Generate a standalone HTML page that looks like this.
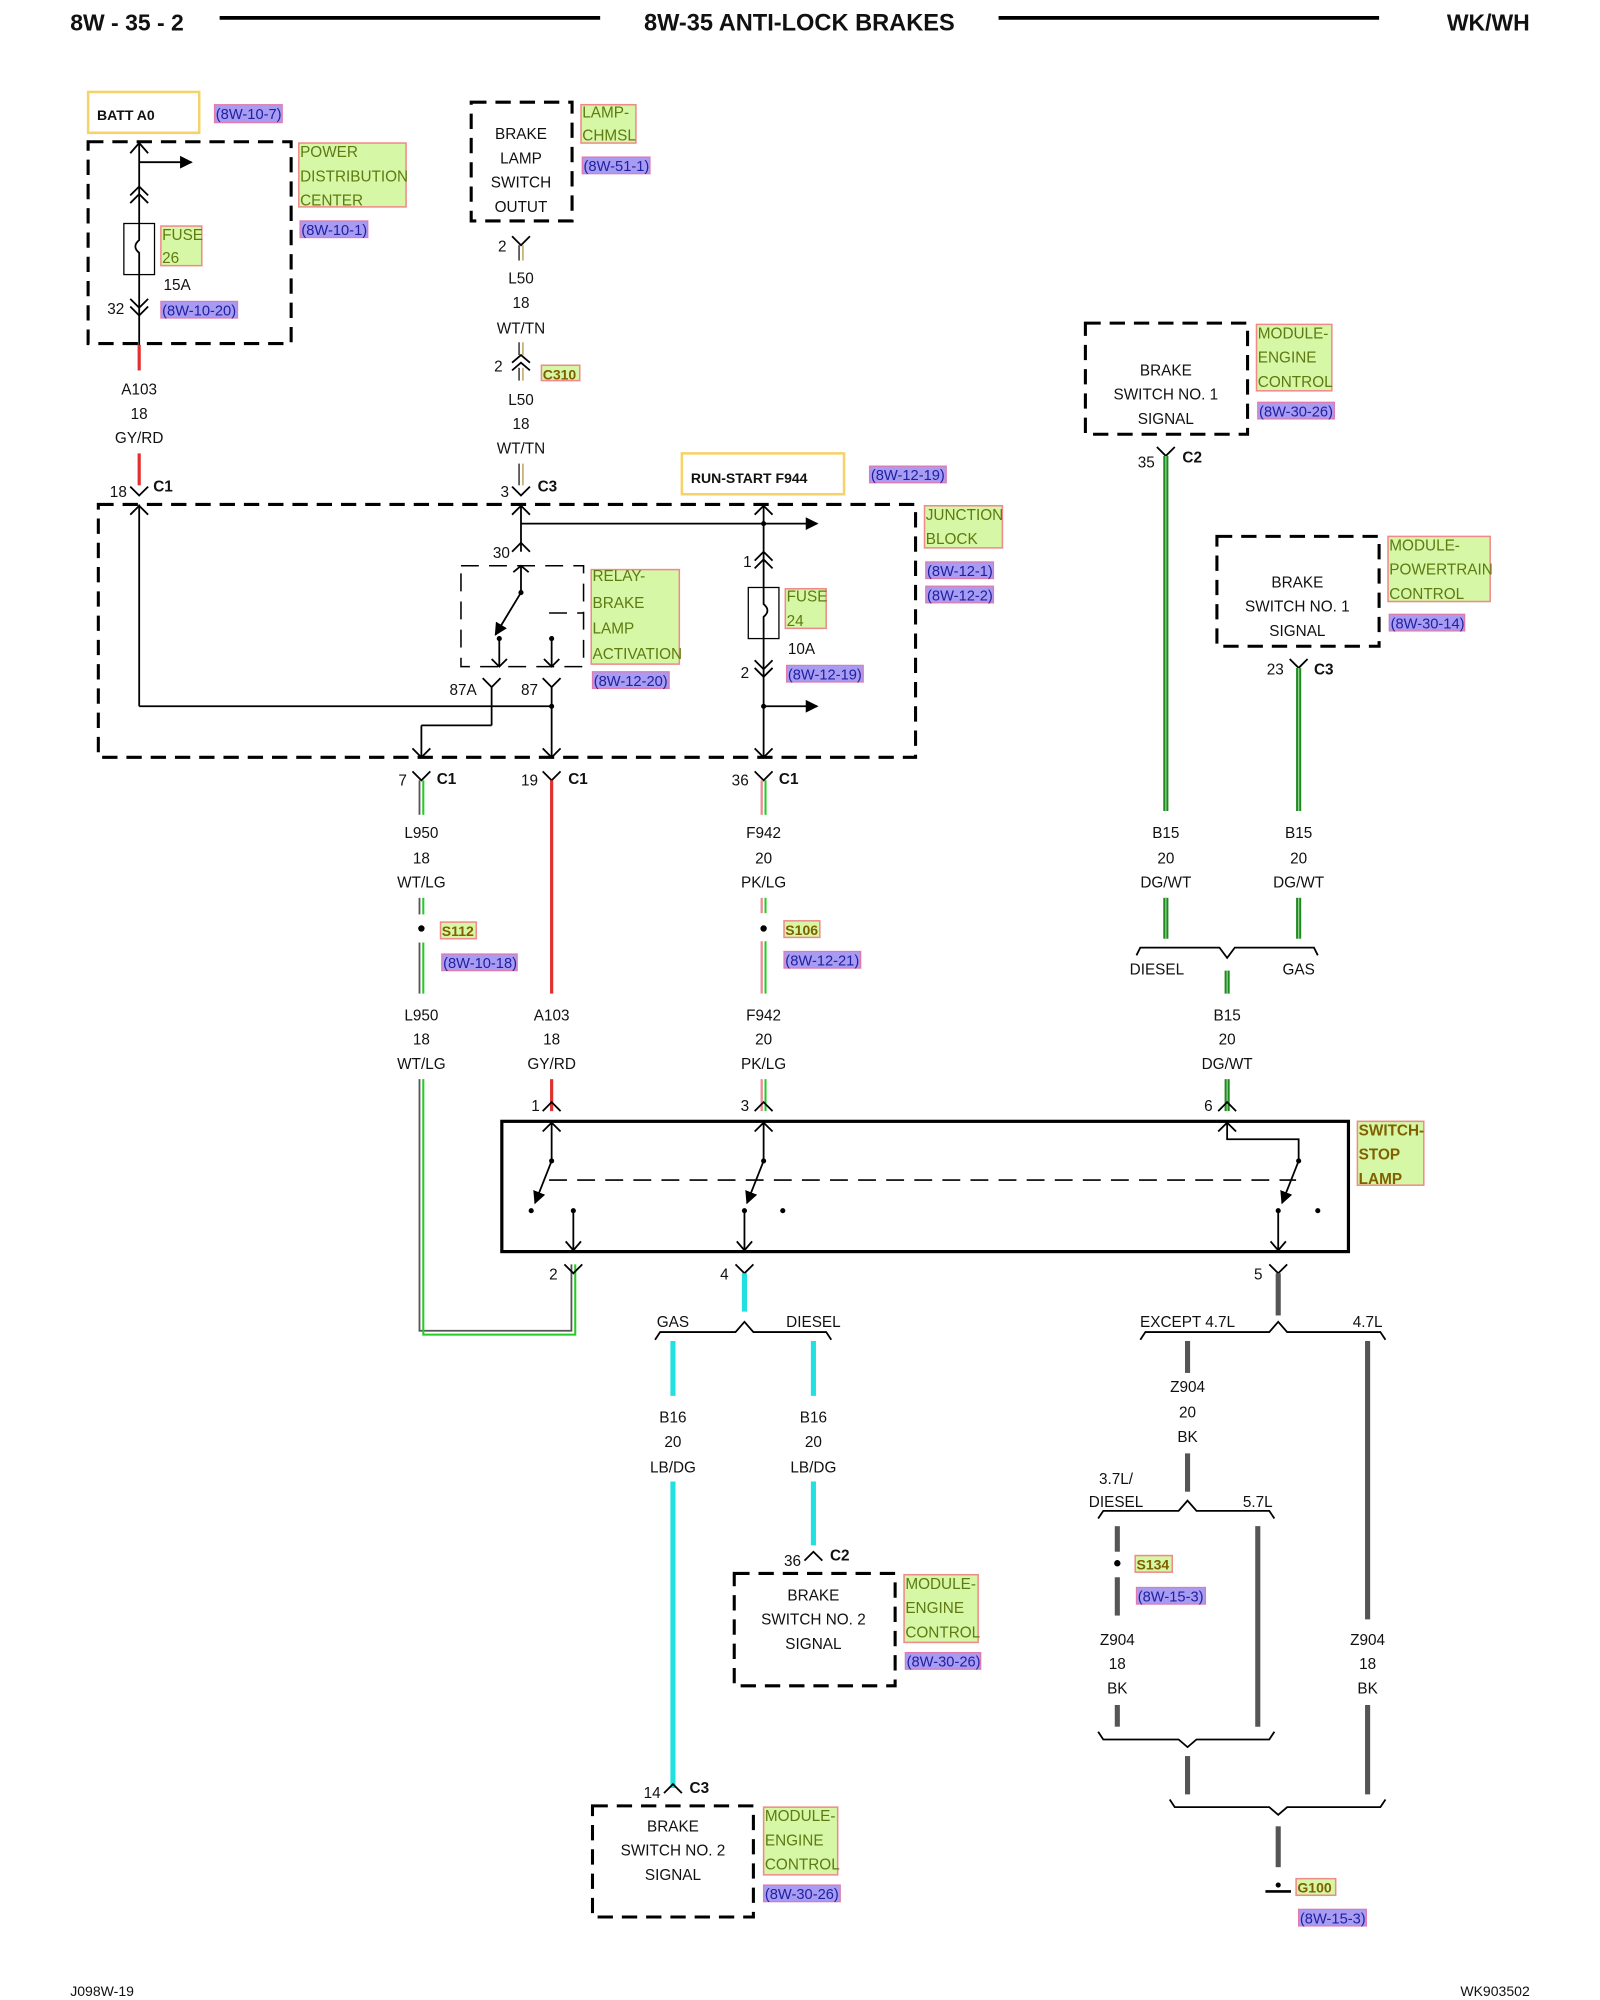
<!DOCTYPE html>
<html><head><meta charset="utf-8"><style>
html,body{margin:0;padding:0;background:#fff}
svg{display:block}
text{font-family:"Liberation Sans",sans-serif;font-size:12px;fill:#111}
.b{font-weight:bold}
.y{fill:#d6f7a6;stroke:#f08a8a;stroke-width:1.2}
.yt{fill:#5e7a10;font-size:12px}
.p{fill:#a79cf2;stroke:#e07ab0;stroke-width:1}
.pt{fill:#2020a0;font-size:11.5px}
.k{stroke:#000;stroke-width:1.4;fill:none}
.d{stroke:#000;stroke-width:2.4;fill:none;stroke-dasharray:12 7}
.dt{stroke:#000;stroke-width:1.2;fill:none;stroke-dasharray:14 8}
.red{stroke:#e03030;stroke-width:2.5}
.gy{stroke:#555;stroke-width:1.4}
.gn{stroke:#22cc22;stroke-width:1.6}
.pk{stroke:#f08a9a;stroke-width:1.8}
.dg{stroke:#1b8c1b;stroke-width:4}
.dgw{stroke:#9c9;stroke-width:1}
.cy{stroke:#22e0e0;stroke-width:4}
.bk{stroke:#555;stroke-width:4}
.tn{stroke:#c9b37a;stroke-width:1.4}
</style></head><body>
<svg width="1600" height="2000" viewBox="0 0 1253 1566" preserveAspectRatio="none" xmlns="http://www.w3.org/2000/svg">
<defs>
<marker id="ah" markerWidth="10" markerHeight="10" refX="9" refY="5" orient="auto" markerUnits="userSpaceOnUse"><path d="M0,0 L10,5 L0,10z" fill="#000"/></marker>
</defs>
<!-- header -->
<text x="55" y="24" class="b" style="font-size:18px">8W - 35 - 2</text>
<line x1="172" y1="14" x2="470" y2="14" stroke="#000" stroke-width="3"/>
<text x="626" y="24" class="b" text-anchor="middle" style="font-size:18.5px">8W-35 ANTI-LOCK BRAKES</text>
<line x1="782" y1="14" x2="1080" y2="14" stroke="#000" stroke-width="3"/>
<text x="1198" y="24" class="b" text-anchor="end" style="font-size:18px">WK/WH</text>

<!-- PDC -->
<rect x="69" y="72" width="87" height="32" fill="none" stroke="#f5d36a" stroke-width="2"/>
<text x="76" y="94" class="b" style="font-size:11px">BATT A0</text>
<rect x="168" y="82" width="53" height="14" class="p"/><text x="169" y="93" class="pt">(8W-10-7)</text>
<rect x="69" y="111" width="159" height="158" class="d"/>
<line x1="109" y1="111" x2="109" y2="290" class="k"/>
<path d="M102,120 L109,112 L116,120" class="k"/>
<line x1="109" y1="127" x2="150" y2="127" class="k" marker-end="url(#ah)"/>
<path d="M102,153 L109,146 L116,153 M102,159 L109,152 L116,159" class="k"/>
<rect x="97" y="175" width="24" height="40" fill="#fff" stroke="#000"/>
<path d="M109,175 L109,188 Q103,193 109,198 L109,215" class="k"/>
<path d="M102,234 L109,241 L116,234 M102,240 L109,247 L116,240" class="k"/>
<text x="84" y="246">32</text>
<rect x="126" y="177" width="32" height="31" class="y"/><text x="127" y="188" class="yt">FUSE</text><text x="127" y="206" class="yt">26</text>
<text x="128" y="227">15A</text>
<rect x="126" y="236" width="60" height="13" class="p"/><text x="127" y="247" class="pt">(8W-10-20)</text>
<rect x="234" y="112" width="84" height="50" class="y"/><text x="235" y="123" class="yt">POWER</text><text x="235" y="142" class="yt">DISTRIBUTION</text><text x="235" y="161" class="yt">CENTER</text>
<rect x="235" y="173" width="53" height="13" class="p"/><text x="236" y="184" class="pt">(8W-10-1)</text>
<line x1="109" y1="270" x2="109" y2="290" class="red"/>
<text x="109" y="309" text-anchor="middle">A103</text><text x="109" y="328" text-anchor="middle">18</text><text x="109" y="347" text-anchor="middle">GY/RD</text>
<line x1="109" y1="355" x2="109" y2="380" class="red"/>
<text x="86" y="389">18</text><text x="120" y="385" class="b">C1</text>
<path d="M102,381 L109,388 L116,381" class="k"/>

<!-- brake lamp switch output -->
<rect x="369" y="80" width="79" height="93" class="d"/>
<text x="408" y="109" text-anchor="middle">BRAKE</text><text x="408" y="128" text-anchor="middle">LAMP</text><text x="408" y="147" text-anchor="middle">SWITCH</text><text x="408" y="166" text-anchor="middle">OUTUT</text>
<rect x="455" y="82" width="43" height="30" class="y"/><text x="456" y="92" class="yt">LAMP-</text><text x="456" y="110" class="yt">CHMSL</text>
<rect x="456" y="123" width="53" height="13" class="p"/><text x="457" y="134" class="pt">(8W-51-1)</text>
<text x="390" y="197">2</text><path d="M401,185 L408,192 L415,185" class="k"/>
<line x1="406.5" y1="192" x2="406.5" y2="204" class="gy"/><line x1="409.5" y1="192" x2="409.5" y2="204" class="tn"/>
<text x="408" y="222" text-anchor="middle">L50</text><text x="408" y="241" text-anchor="middle">18</text><text x="408" y="261" text-anchor="middle">WT/TN</text>
<line x1="406.5" y1="268" x2="406.5" y2="278" class="gy"/><line x1="409.5" y1="268" x2="409.5" y2="278" class="tn"/>
<path d="M401,284 L408,278 L415,284 M401,290 L408,284 L415,290" class="k"/>
<line x1="406.5" y1="288" x2="406.5" y2="298" class="gy"/><line x1="409.5" y1="288" x2="409.5" y2="298" class="tn"/>
<text x="387" y="291">2</text>
<rect x="424" y="286" width="30" height="12" class="y"/><text x="425" y="297" class="yt b" style="font-size:11px;fill:#806000">C310</text>
<text x="408" y="317" text-anchor="middle">L50</text><text x="408" y="336" text-anchor="middle">18</text><text x="408" y="355" text-anchor="middle">WT/TN</text>
<line x1="406.5" y1="363" x2="406.5" y2="380" class="gy"/><line x1="409.5" y1="363" x2="409.5" y2="380" class="tn"/>
<text x="392" y="389">3</text><text x="421" y="385" class="b">C3</text>
<path d="M401,381 L408,388 L415,381" class="k"/>

<!-- junction block -->
<rect x="534" y="355" width="127" height="32" fill="none" stroke="#f5d36a" stroke-width="2"/>
<text x="541" y="378" class="b" style="font-size:11px">RUN-START F944</text>
<rect x="681" y="365" width="60" height="13" class="p"/><text x="682" y="376" class="pt">(8W-12-19)</text>
<rect x="77" y="395" width="640" height="198" class="d"/>
<rect x="724" y="396" width="61" height="33" class="y"/><text x="725" y="407" class="yt">JUNCTION</text><text x="725" y="426" class="yt">BLOCK</text>
<rect x="725" y="440" width="53" height="13" class="p"/><text x="726" y="451" class="pt">(8W-12-1)</text>
<rect x="725" y="459" width="53" height="13" class="p"/><text x="726" y="470" class="pt">(8W-12-2)</text>
<line x1="109" y1="395" x2="109" y2="553" class="k"/><path d="M102,403 L109,396 L116,403" class="k"/>
<line x1="109" y1="553" x2="432" y2="553" class="k"/>
<line x1="408" y1="395" x2="408" y2="432" class="k"/><path d="M401,403 L408,396 L415,403" class="k"/>
<line x1="408" y1="410" x2="640" y2="410" class="k" marker-end="url(#ah)"/>
<text x="386" y="437">30</text><path d="M401,432 L408,425 L415,432" class="k"/>
<rect x="361" y="443" width="96" height="79" class="dt"/>
<path d="M402,448 L408,443 L414,448" class="k"/>
<line x1="408" y1="443" x2="408" y2="464" class="k"/>
<circle cx="408" cy="464" r="2" fill="#000"/>
<line x1="408" y1="464" x2="388" y2="497" class="k" marker-end="url(#ah)"/>
<circle cx="391" cy="500" r="2" fill="#000"/><circle cx="432" cy="500" r="2" fill="#000"/>
<line x1="430" y1="480" x2="457" y2="480" class="dt"/>
<line x1="391" y1="500" x2="391" y2="522" class="k"/><path d="M385,516 L391,522 L397,516" class="k"/>
<line x1="432" y1="500" x2="432" y2="522" class="k"/><path d="M426,516 L432,522 L438,516" class="k"/>
<rect x="463" y="446" width="69" height="74" class="y"/>
<text x="464" y="455" class="yt">RELAY-</text><text x="464" y="476" class="yt">BRAKE</text><text x="464" y="496" class="yt">LAMP</text><text x="464" y="516" class="yt">ACTIVATION</text>
<rect x="464" y="526" width="60" height="13" class="p"/><text x="465" y="537" class="pt">(8W-12-20)</text>
<text x="352" y="544">87A</text><text x="408" y="544">87</text>
<path d="M378,531 L385,538 L392,531 M425,531 L432,538 L439,531" class="k"/>
<line x1="385" y1="538" x2="385" y2="568" class="k"/><line x1="330" y1="568" x2="385" y2="568" class="k"/>
<line x1="330" y1="568" x2="330" y2="593" class="k"/><path d="M323,586 L330,593 L337,586" class="k"/>
<line x1="432" y1="538" x2="432" y2="593" class="k"/><path d="M425,586 L432,593 L439,586" class="k"/><circle cx="432" cy="553" r="2" fill="#000"/>
<line x1="598" y1="395" x2="598" y2="593" class="k"/><path d="M591,403 L598,396 L605,403" class="k"/><circle cx="598" cy="410" r="2" fill="#000"/>
<text x="582" y="444">1</text><path d="M591,439 L598,432 L605,439 M591,445 L598,438 L605,445" class="k"/>
<rect x="586" y="460" width="24" height="40" fill="#fff" stroke="#000"/>
<path d="M598,460 L598,473 Q604,478 598,483 L598,500" class="k"/>
<text x="580" y="531">2</text><path d="M591,517 L598,524 L605,517 M591,523 L598,530 L605,523" class="k"/>
<line x1="598" y1="553" x2="640" y2="553" class="k" marker-end="url(#ah)"/><circle cx="598" cy="553" r="2" fill="#000"/>
<path d="M591,586 L598,593 L605,586" class="k"/>
<rect x="615" y="461" width="32" height="31" class="y"/><text x="616" y="471" class="yt">FUSE</text><text x="616" y="490" class="yt">24</text>
<text x="617" y="512">10A</text>
<rect x="616" y="521" width="60" height="13" class="p"/><text x="617" y="532" class="pt">(8W-12-19)</text>

<!-- below JB -->
<g>
<text x="312" y="615">7</text><text x="342" y="614" class="b">C1</text><path d="M323,604 L330,611 L337,604" class="k"/>
<text x="408" y="615">19</text><text x="445" y="614" class="b">C1</text><path d="M425,604 L432,611 L439,604" class="k"/>
<text x="573" y="615">36</text><text x="610" y="614" class="b">C1</text><path d="M591,604 L598,611 L605,604" class="k"/>
<line x1="328.5" y1="611" x2="328.5" y2="638" class="gy"/><line x1="331.5" y1="611" x2="331.5" y2="638" class="gn"/>
<text x="330" y="656" text-anchor="middle">L950</text><text x="330" y="676" text-anchor="middle">18</text><text x="330" y="695" text-anchor="middle">WT/LG</text>
<line x1="328.5" y1="703" x2="328.5" y2="716" class="gy"/><line x1="331.5" y1="703" x2="331.5" y2="716" class="gn"/>
<circle cx="330" cy="727" r="2.5" fill="#000"/>
<rect x="345" y="722" width="28" height="13" class="y"/><text x="346" y="733" class="b" style="font-size:11px;fill:#806000">S112</text>
<rect x="346" y="747" width="59" height="13" class="p"/><text x="347" y="758" class="pt">(8W-10-18)</text>
<line x1="328.5" y1="738" x2="328.5" y2="778" class="gy"/><line x1="331.5" y1="738" x2="331.5" y2="778" class="gn"/>
<text x="330" y="799" text-anchor="middle">L950</text><text x="330" y="818" text-anchor="middle">18</text><text x="330" y="837" text-anchor="middle">WT/LG</text>
<path d="M328.5,845 L328.5,1042 L447.5,1042 L447.5,990" fill="none" class="gy"/>
<path d="M331.5,845 L331.5,1045 L450.5,1045 L450.5,990" fill="none" class="gn"/>
<line x1="432" y1="611" x2="432" y2="778" class="red"/>
<text x="432" y="799" text-anchor="middle">A103</text><text x="432" y="818" text-anchor="middle">18</text><text x="432" y="837" text-anchor="middle">GY/RD</text>
<line x1="432" y1="845" x2="432" y2="870" class="red"/>
<text x="416" y="870">1</text><path d="M425,870 L432,863 L439,870" class="k"/>
<line x1="596.5" y1="611" x2="596.5" y2="638" class="pk"/><line x1="599.5" y1="611" x2="599.5" y2="638" class="gn"/>
<text x="598" y="656" text-anchor="middle">F942</text><text x="598" y="676" text-anchor="middle">20</text><text x="598" y="695" text-anchor="middle">PK/LG</text>
<line x1="596.5" y1="703" x2="596.5" y2="715" class="pk"/><line x1="599.5" y1="703" x2="599.5" y2="715" class="gn"/>
<circle cx="598" cy="727" r="2.5" fill="#000"/>
<rect x="614" y="721" width="28" height="13" class="y"/><text x="615" y="732" class="b" style="font-size:11px;fill:#806000">S106</text>
<rect x="614" y="745" width="60" height="13" class="p"/><text x="615" y="756" class="pt">(8W-12-21)</text>
<line x1="596.5" y1="737" x2="596.5" y2="778" class="pk"/><line x1="599.5" y1="737" x2="599.5" y2="778" class="gn"/>
<text x="598" y="799" text-anchor="middle">F942</text><text x="598" y="818" text-anchor="middle">20</text><text x="598" y="837" text-anchor="middle">PK/LG</text>
<line x1="596.5" y1="845" x2="596.5" y2="870" class="pk"/><line x1="599.5" y1="845" x2="599.5" y2="870" class="gn"/>
<text x="580" y="870">3</text><path d="M591,870 L598,863 L605,870" class="k"/>
</g>

<!-- right modules -->
<rect x="850" y="253" width="127" height="87" class="d"/>
<text x="913" y="294" text-anchor="middle">BRAKE</text><text x="913" y="313" text-anchor="middle">SWITCH NO. 1</text><text x="913" y="332" text-anchor="middle">SIGNAL</text>
<rect x="984" y="254" width="59" height="52" class="y"/><text x="985" y="265" class="yt">MODULE-</text><text x="985" y="284" class="yt">ENGINE</text><text x="985" y="303" class="yt">CONTROL</text>
<rect x="985" y="315" width="60" height="13" class="p"/><text x="986" y="326" class="pt">(8W-30-26)</text>
<text x="891" y="366">35</text><text x="926" y="362" class="b">C2</text><path d="M906,350 L913,357 L920,350" class="k"/>
<line x1="913" y1="357" x2="913" y2="635" class="dg"/><line x1="913" y1="357" x2="913" y2="635" class="dgw"/>
<text x="913" y="656" text-anchor="middle">B15</text><text x="913" y="676" text-anchor="middle">20</text><text x="913" y="695" text-anchor="middle">DG/WT</text>
<line x1="913" y1="703" x2="913" y2="735" class="dg"/><line x1="913" y1="703" x2="913" y2="735" class="dgw"/>
<rect x="953" y="420" width="127" height="86" class="d"/>
<text x="1016" y="460" text-anchor="middle">BRAKE</text><text x="1016" y="479" text-anchor="middle">SWITCH NO. 1</text><text x="1016" y="498" text-anchor="middle">SIGNAL</text>
<rect x="1087" y="420" width="80" height="51" class="y"/><text x="1088" y="431" class="yt">MODULE-</text><text x="1088" y="450" class="yt">POWERTRAIN</text><text x="1088" y="469" class="yt">CONTROL</text>
<rect x="1088" y="481" width="59" height="13" class="p"/><text x="1089" y="492" class="pt">(8W-30-14)</text>
<text x="992" y="528">23</text><text x="1029" y="528" class="b">C3</text><path d="M1010,516 L1017,523 L1024,516" class="k"/>
<line x1="1017" y1="523" x2="1017" y2="635" class="dg"/><line x1="1017" y1="523" x2="1017" y2="635" class="dgw"/>
<text x="1017" y="656" text-anchor="middle">B15</text><text x="1017" y="676" text-anchor="middle">20</text><text x="1017" y="695" text-anchor="middle">DG/WT</text>
<line x1="1017" y1="703" x2="1017" y2="735" class="dg"/><line x1="1017" y1="703" x2="1017" y2="735" class="dgw"/>
<path d="M890,748 L893,742 L955,742 L961,750 L967,742 L1029,742 L1032,748" class="k"/>
<text x="906" y="763" text-anchor="middle">DIESEL</text><text x="1017" y="763" text-anchor="middle">GAS</text>
<line x1="961" y1="760" x2="961" y2="778" class="dg"/><line x1="961" y1="760" x2="961" y2="778" class="dgw"/>
<text x="961" y="799" text-anchor="middle">B15</text><text x="961" y="818" text-anchor="middle">20</text><text x="961" y="837" text-anchor="middle">DG/WT</text>
<line x1="961" y1="845" x2="961" y2="870" class="dg"/><line x1="961" y1="845" x2="961" y2="870" class="dgw"/>
<text x="943" y="870">6</text><path d="M954,870 L961,863 L968,870" class="k"/>

<!-- switch stop lamp -->
<rect x="393" y="878" width="663" height="102" fill="none" stroke="#000" stroke-width="2.5"/>
<rect x="1063" y="878" width="52" height="50" class="y"/><text x="1064" y="889" class="yt b" style="fill:#806000">SWITCH-</text><text x="1064" y="908" class="yt b" style="fill:#806000">STOP</text><text x="1064" y="927" class="yt b" style="fill:#806000">LAMP</text>
<line x1="430" y1="924" x2="1015" y2="924" class="dt"/>
<g class="k">
<path d="M425,886 L432,879 L439,886 M432,879 L432,909"/><path d="M591,886 L598,879 L605,886 M598,879 L598,909"/>
<path d="M954,886 L961,879 L968,886 M961,879 L961,892 L1017,892 L1017,909"/>
<line x1="432" y1="909" x2="419" y2="942" marker-end="url(#ah)"/>
<line x1="598" y1="909" x2="585" y2="942" marker-end="url(#ah)"/>
<line x1="1017" y1="909" x2="1004" y2="942" marker-end="url(#ah)"/>
<path d="M449,948 L449,979 M443,972 L449,979 L455,972"/>
<path d="M583,948 L583,979 M577,972 L583,979 L589,972"/>
<path d="M1001,948 L1001,979 M995,972 L1001,979 L1007,972"/>
</g>
<g fill="#000"><circle cx="432" cy="909" r="2"/><circle cx="598" cy="909" r="2"/><circle cx="1017" cy="909" r="2"/>
<circle cx="416" cy="948" r="2"/><circle cx="449" cy="948" r="2"/><circle cx="583" cy="948" r="2"/><circle cx="613" cy="948" r="2"/><circle cx="1001" cy="948" r="2"/><circle cx="1032" cy="948" r="2"/></g>
<text x="430" y="1002">2</text><path d="M442,990 L449,997 L456,990" class="k"/>
<text x="564" y="1002">4</text><path d="M576,990 L583,997 L590,990" class="k"/>
<text x="982" y="1002">5</text><path d="M994,990 L1001,997 L1008,990" class="k"/>

<!-- B16 -->
<line x1="583" y1="997" x2="583" y2="1027" class="cy"/>
<path d="M513,1049 L517,1043 L576,1043 L583,1035 L590,1043 L647,1043 L651,1049" class="k"/>
<text x="527" y="1039" text-anchor="middle">GAS</text><text x="637" y="1039" text-anchor="middle">DIESEL</text>
<line x1="527" y1="1050" x2="527" y2="1093" class="cy"/><line x1="637" y1="1050" x2="637" y2="1093" class="cy"/>
<text x="527" y="1114" text-anchor="middle">B16</text><text x="527" y="1133" text-anchor="middle">20</text><text x="527" y="1153" text-anchor="middle">LB/DG</text>
<text x="637" y="1114" text-anchor="middle">B16</text><text x="637" y="1133" text-anchor="middle">20</text><text x="637" y="1153" text-anchor="middle">LB/DG</text>
<line x1="527" y1="1160" x2="527" y2="1400" class="cy"/><line x1="637" y1="1160" x2="637" y2="1210" class="cy"/>
<text x="614" y="1226">36</text><text x="650" y="1222" class="b">C2</text><path d="M630,1222 L637,1215 L644,1222" class="k"/>
<rect x="575" y="1232" width="126" height="88" class="d"/>
<text x="637" y="1253" text-anchor="middle">BRAKE</text><text x="637" y="1272" text-anchor="middle">SWITCH NO. 2</text><text x="637" y="1291" text-anchor="middle">SIGNAL</text>
<rect x="708" y="1233" width="58" height="53" class="y"/><text x="709" y="1244" class="yt">MODULE-</text><text x="709" y="1263" class="yt">ENGINE</text><text x="709" y="1282" class="yt">CONTROL</text>
<rect x="709" y="1294" width="59" height="13" class="p"/><text x="710" y="1305" class="pt">(8W-30-26)</text>
<text x="504" y="1408">14</text><text x="540" y="1404" class="b">C3</text><path d="M520,1404 L527,1397 L534,1404" class="k"/>
<rect x="464" y="1414" width="126" height="87" class="d"/>
<text x="527" y="1434" text-anchor="middle">BRAKE</text><text x="527" y="1453" text-anchor="middle">SWITCH NO. 2</text><text x="527" y="1472" text-anchor="middle">SIGNAL</text>
<rect x="598" y="1415" width="58" height="53" class="y"/><text x="599" y="1426" class="yt">MODULE-</text><text x="599" y="1445" class="yt">ENGINE</text><text x="599" y="1464" class="yt">CONTROL</text>
<rect x="598" y="1476" width="60" height="13" class="p"/><text x="599" y="1487" class="pt">(8W-30-26)</text>

<!-- ground side -->
<line x1="1001" y1="997" x2="1001" y2="1030" class="bk"/>
<path d="M893,1049 L897,1043 L994,1043 L1001,1035 L1008,1043 L1081,1043 L1085,1049" class="k"/>
<text x="930" y="1039" text-anchor="middle">EXCEPT 4.7L</text><text x="1071" y="1039" text-anchor="middle">4.7L</text>
<line x1="930" y1="1050" x2="930" y2="1075" class="bk"/>
<text x="930" y="1090" text-anchor="middle">Z904</text><text x="930" y="1110" text-anchor="middle">20</text><text x="930" y="1129" text-anchor="middle">BK</text>
<line x1="930" y1="1138" x2="930" y2="1168" class="bk"/>
<text x="874" y="1162" text-anchor="middle">3.7L/</text><text x="874" y="1180" text-anchor="middle">DIESEL</text><text x="985" y="1180" text-anchor="middle">5.7L</text>
<path d="M860,1189 L864,1183 L923,1183 L930,1175 L937,1183 L994,1183 L998,1189" class="k"/>
<line x1="875" y1="1195" x2="875" y2="1215" class="bk"/>
<circle cx="875" cy="1224" r="2.5" fill="#000"/>
<rect x="889" y="1218" width="29" height="13" class="y"/><text x="890" y="1229" class="b" style="font-size:11px;fill:#806000">S134</text>
<rect x="890" y="1243" width="54" height="13" class="p"/><text x="891" y="1254" class="pt">(8W-15-3)</text>
<line x1="875" y1="1235" x2="875" y2="1265" class="bk"/>
<text x="875" y="1288" text-anchor="middle">Z904</text><text x="875" y="1307" text-anchor="middle">18</text><text x="875" y="1326" text-anchor="middle">BK</text>
<line x1="875" y1="1335" x2="875" y2="1352" class="bk"/>
<line x1="985" y1="1195" x2="985" y2="1352" class="bk"/>
<path d="M860,1356 L864,1362 L923,1362 L930,1368 L937,1362 L994,1362 L998,1356" class="k"/>
<line x1="930" y1="1375" x2="930" y2="1405" class="bk"/>
<line x1="1071" y1="1050" x2="1071" y2="1268" class="bk"/>
<text x="1071" y="1288" text-anchor="middle">Z904</text><text x="1071" y="1307" text-anchor="middle">18</text><text x="1071" y="1326" text-anchor="middle">BK</text>
<line x1="1071" y1="1335" x2="1071" y2="1405" class="bk"/>
<path d="M916,1409 L920,1415 L994,1415 L1001,1421 L1008,1415 L1081,1415 L1085,1409" class="k"/>
<line x1="1001" y1="1430" x2="1001" y2="1462" class="bk"/>
<line x1="991" y1="1481" x2="1011" y2="1481" stroke="#000" stroke-width="2"/>
<circle cx="1001" cy="1476" r="2" fill="#000"/>
<rect x="1015" y="1471" width="31" height="13" class="y"/><text x="1016" y="1482" class="b" style="font-size:11px;fill:#806000">G100</text>
<rect x="1017" y="1495" width="53" height="13" class="p"/><text x="1018" y="1506" class="pt">(8W-15-3)</text>

<text x="55" y="1563" style="font-size:11px">J098W-19</text>
<text x="1198" y="1563" text-anchor="end" style="font-size:11px">WK903502</text>
</svg>
</body></html>
